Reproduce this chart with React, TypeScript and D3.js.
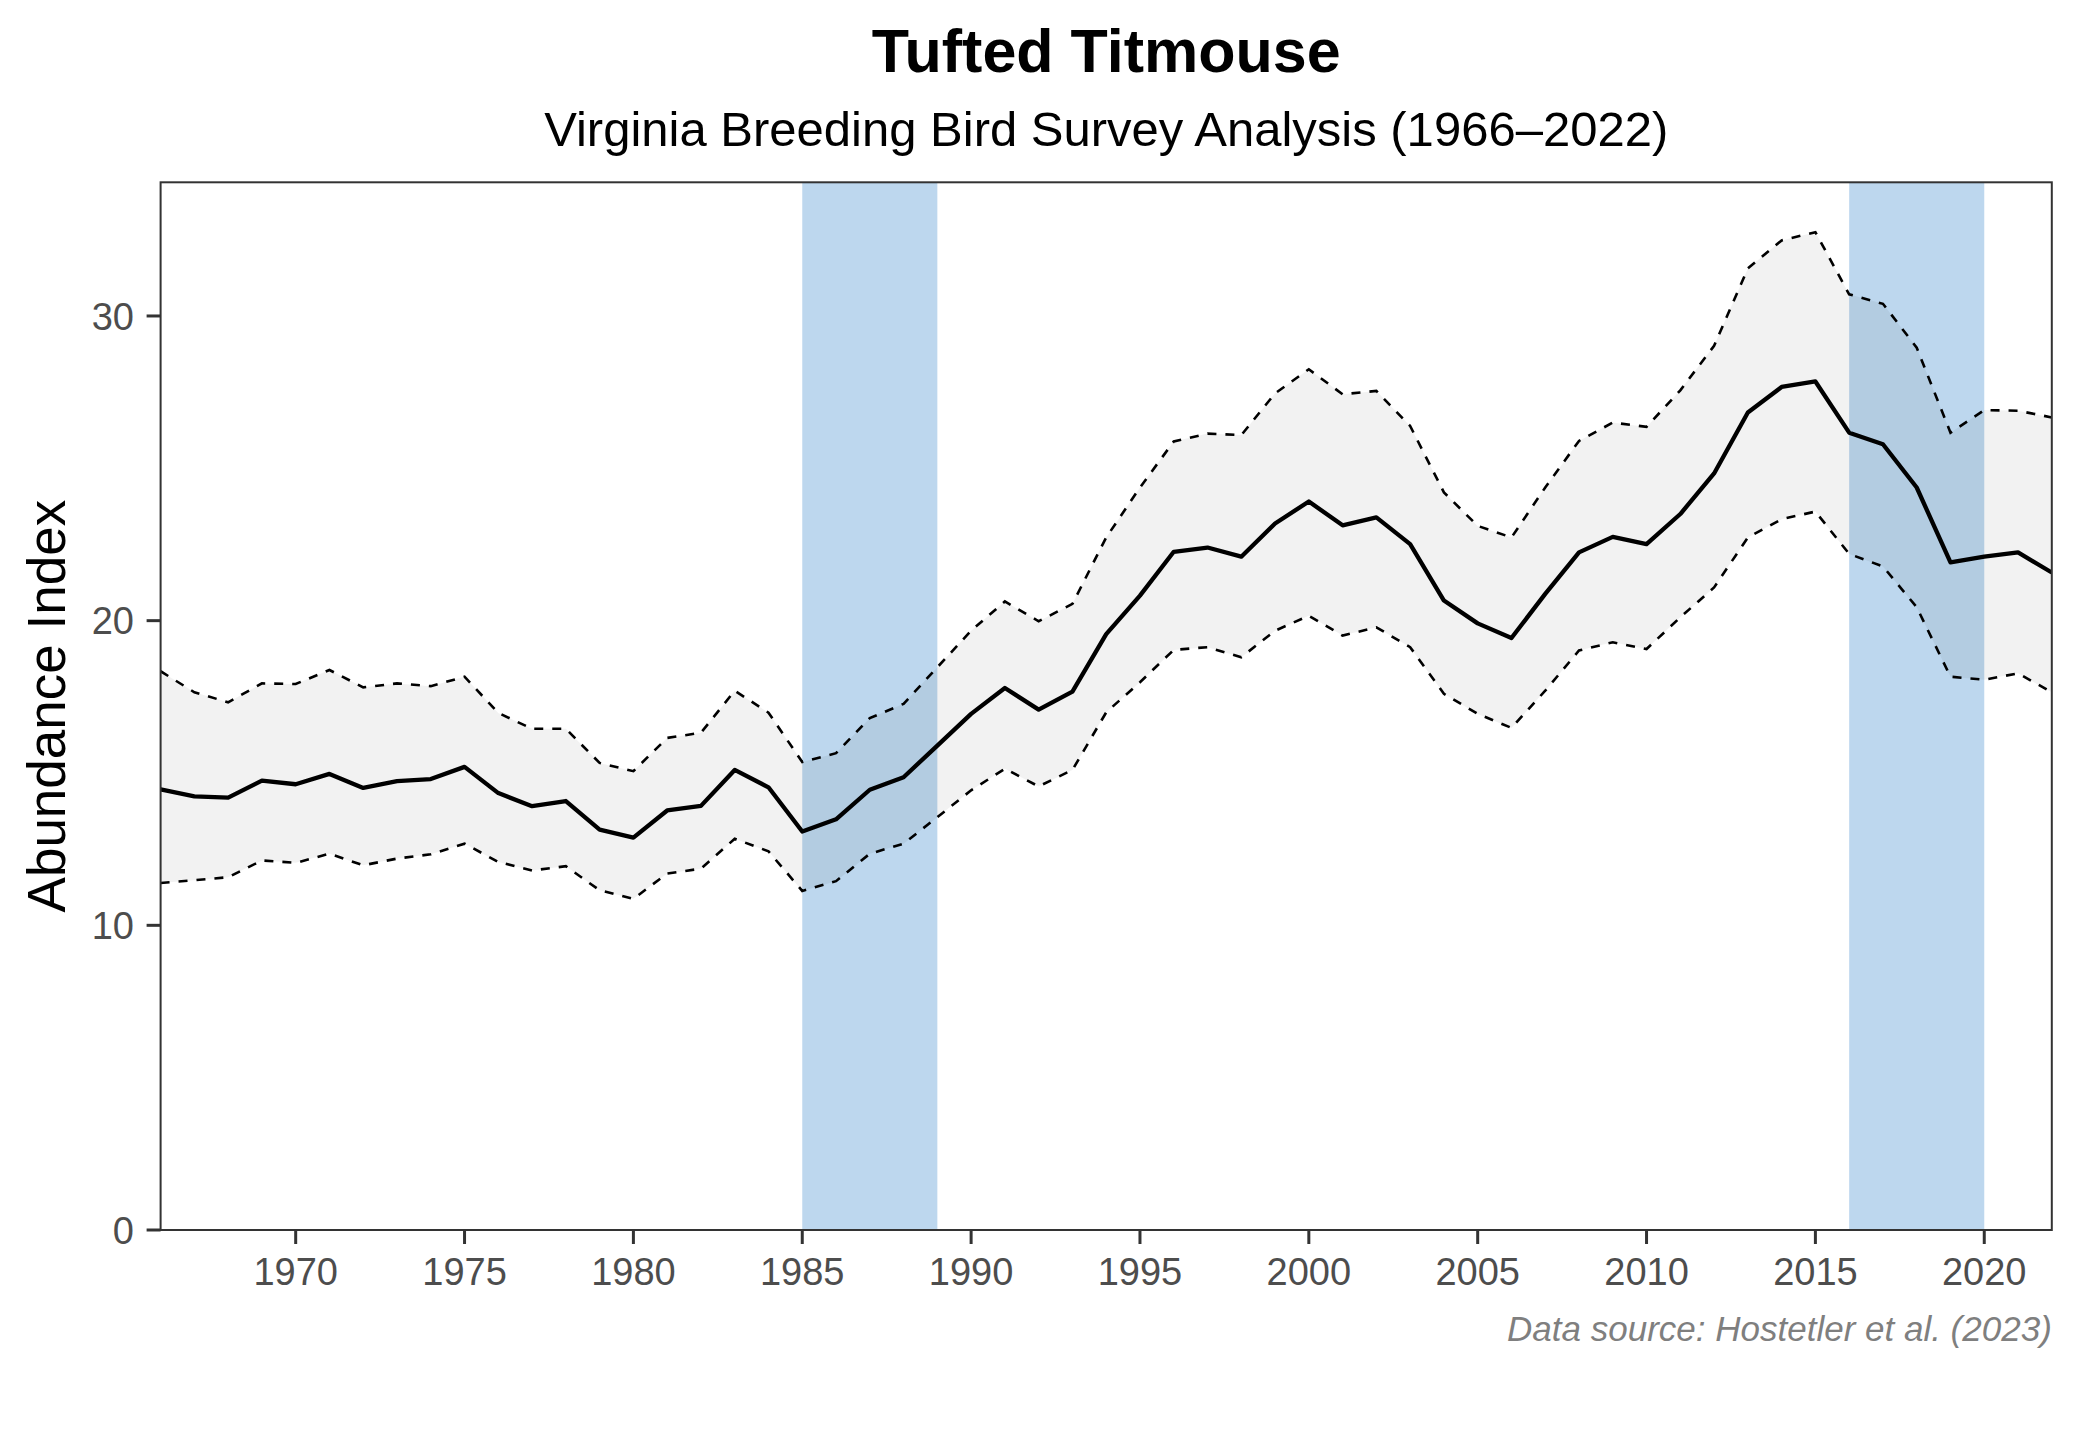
import React from "react";
import * as d3 from "d3";

const years = [1966,1967,1968,1969,1970,1971,1972,1973,1974,1975,1976,1977,1978,1979,1980,1981,1982,1983,1984,1985,1986,1987,1988,1989,1990,1991,1992,1993,1994,1995,1996,1997,1998,1999,2000,2001,2002,2003,2004,2005,2006,2007,2008,2009,2010,2011,2012,2013,2014,2015,2016,2017,2018,2019,2020,2021,2022];
const meanIdx = [14.46,14.23,14.19,14.75,14.63,14.97,14.51,14.73,14.80,15.20,14.34,13.91,14.08,13.14,12.88,13.77,13.92,15.10,14.53,13.08,13.48,14.45,14.86,15.90,16.94,17.79,17.08,17.67,19.56,20.82,22.26,22.40,22.10,23.19,23.91,23.13,23.39,22.51,20.66,19.91,19.43,20.88,22.24,22.75,22.51,23.50,24.83,26.83,27.67,27.85,26.17,25.79,24.37,21.91,22.10,22.24,21.58];
const upperIdx = [18.34,17.65,17.32,17.94,17.92,18.38,17.81,17.94,17.85,18.16,16.97,16.45,16.45,15.33,15.06,16.15,16.32,17.70,16.98,15.36,15.65,16.80,17.27,18.47,19.67,20.63,19.98,20.55,22.73,24.37,25.88,26.14,26.09,27.46,28.25,27.43,27.54,26.39,24.21,23.11,22.73,24.37,25.90,26.50,26.36,27.56,29.02,31.56,32.48,32.75,30.71,30.40,28.96,26.17,26.91,26.89,26.67];
const lowerIdx = [11.39,11.48,11.58,12.13,12.05,12.35,11.97,12.19,12.33,12.68,12.08,11.80,11.94,11.15,10.87,11.70,11.86,12.84,12.43,11.13,11.45,12.35,12.68,13.55,14.43,15.14,14.56,15.10,16.99,17.98,19.04,19.13,18.80,19.67,20.16,19.51,19.78,19.13,17.60,16.94,16.48,17.70,19.02,19.29,19.07,20.11,21.09,22.73,23.33,23.58,22.19,21.78,20.44,18.16,18.06,18.27,17.65];
const bandStarts = [1985, 2016];
const bandEnds = [1989, 2020];
const xTicks = [1970,1975,1980,1985,1990,1995,2000,2005,2010,2015,2020];
const yTicks = [0,10,20,30];

const title = "Tufted Titmouse";
const subtitle = "Virginia Breeding Bird Survey Analysis (1966–2022)";
const yLabel = "Abundance Index";
const caption = "Data source: Hostetler et al. (2023)";

const W = 2080, H = 1440;
const L = 160.6, R = 2051.8, T = 182.3, B = 1230;
const FONT = "'Liberation Sans', Arial, Helvetica, sans-serif";

export default function App() {
  const x = d3.scaleLinear().domain([1966, 2022]).range([L, R]);
  const yMax = (d3.max(upperIdx) as number) * 1.05;
  const y = d3.scaleLinear().domain([0, yMax]).range([B, T]);

  const pts = years.map((yr, i) => ({ yr, m: meanIdx[i], u: upperIdx[i], l: lowerIdx[i] }));
  const area = d3.area<any>().x(d => x(d.yr)).y0(d => y(d.l)).y1(d => y(d.u));
  const lineM = d3.line<any>().x(d => x(d.yr)).y(d => y(d.m));
  const lineU = d3.line<any>().x(d => x(d.yr)).y(d => y(d.u));
  const lineL = d3.line<any>().x(d => x(d.yr)).y(d => y(d.l));
  const cx = (L + R) / 2;

  return (
    <svg width={W} height={H} style={{ position: "absolute", left: 0, top: 0, background: "#fff" }} fontFamily={FONT}>
      <rect x={0} y={0} width={W} height={H} fill="#fff" />
      <defs>
        <clipPath id="panel">
          <rect x={L} y={T} width={R - L} height={B - T} />
        </clipPath>
      </defs>
      <g clipPath="url(#panel)">
        {bandStarts.map((s, i) => (
          <rect key={i} x={x(s)} y={T} width={x(bandEnds[i]) - x(s)} height={B - T} fill="#BDD7EE" />
        ))}
        <path d={area(pts) || ""} fill="#000" fillOpacity={0.05} />
        <path d={lineU(pts) || ""} fill="none" stroke="#000" strokeWidth={2.6} strokeDasharray="9 9" />
        <path d={lineL(pts) || ""} fill="none" stroke="#000" strokeWidth={2.6} strokeDasharray="9 9" />
        <path d={lineM(pts) || ""} fill="none" stroke="#000" strokeWidth={4.3} strokeLinejoin="round" />
      </g>
      <rect x={L} y={T} width={R - L} height={B - T} fill="none" stroke="#333333" strokeWidth={2} />
      {xTicks.map(t => (
        <g key={t}>
          <line x1={x(t)} x2={x(t)} y1={B} y2={B + 14} stroke="#333333" strokeWidth={3} />
          <text x={x(t)} y={1285} textAnchor="middle" fontSize={38} fill="#4D4D4D">{t}</text>
        </g>
      ))}
      {yTicks.map(t => (
        <g key={t}>
          <line x1={L - 14} x2={L} y1={y(t)} y2={y(t)} stroke="#333333" strokeWidth={3} />
          <text x={134} y={y(t)} dy="0.36em" textAnchor="end" fontSize={38} fill="#4D4D4D">{t}</text>
        </g>
      ))}
      <text x={cx} y={72} textAnchor="middle" fontSize={61} fontWeight="bold" fill="#000">{title}</text>
      <text x={cx} y={146} textAnchor="middle" fontSize={49} fill="#000">{subtitle}</text>
      <text transform={`translate(65,${(T + B) / 2}) rotate(-90)`} textAnchor="middle" fontSize={53} fill="#000">{yLabel}</text>
      <text x={R} y={1341} textAnchor="end" fontSize={35} fontStyle="italic" fill="#7F7F7F">{caption}</text>
    </svg>
  );
}
